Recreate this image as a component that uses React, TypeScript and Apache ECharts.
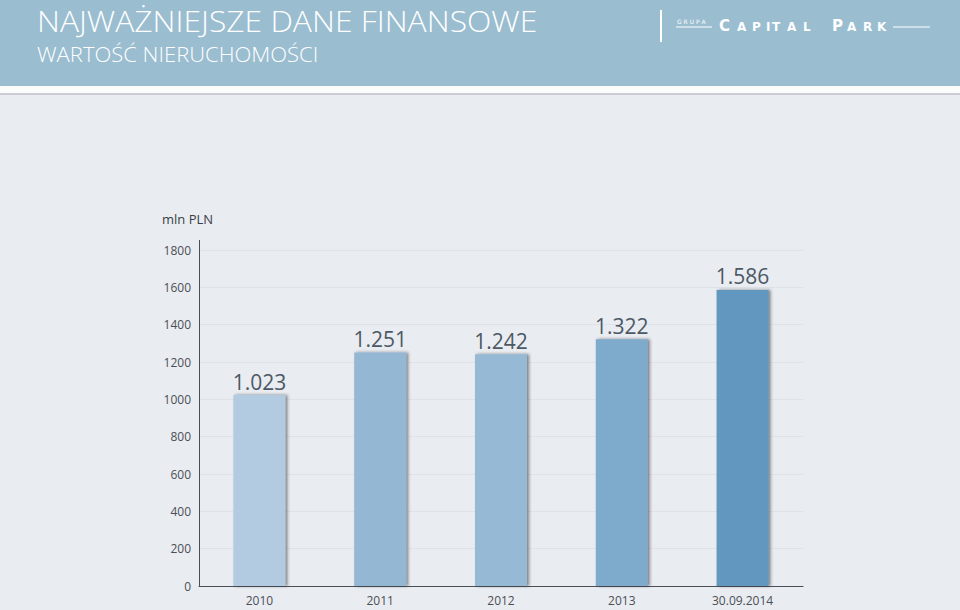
import React, { useEffect, useRef } from "react";
import * as echarts from "echarts";

const categories = ["2010", "2011", "2012", "2013", "30.09.2014"];
const values = [1023, 1251, 1242, 1322, 1586];
const barColors = ["#b2cbe0", "#94b8d3", "#96bad5", "#7eaacb", "#6298bf"];
const yTicks = [0, 200, 400, 600, 800, 1000, 1200, 1400, 1600, 1800];
const title = "NAJWAŻNIEJSZE DANE FINANSOWE";
const subtitle = "WARTOŚĆ NIERUCHOMOŚCI";
const unitLabel = "mln PLN";
const logoLetters = ["C", "A", "P", "I", "T", "A", "L", "P", "A", "R", "K"];
const logoX = [719, 737, 752, 766, 772, 787, 803, 832, 847, 863, 877];

const fmt = (v: number) => {
  const s = String(v);
  return s.length > 3 ? s.slice(0, s.length - 3) + "." + s.slice(s.length - 3) : s;
};

export default function App() {
  const ref = useRef<HTMLDivElement>(null);
  useEffect(() => {
    if (!ref.current) return;
    const chart = echarts.init(ref.current, undefined, { renderer: "svg" });
    const logo = logoLetters.map((ch, i) => {
      const big = i === 0 || i === 7;
      return {
        type: "text",
        x: logoX[i],
        y: 33,
        style: {
          text: ch,
          fill: "#ffffff",
          fontSize: big ? 15 : 12,
          fontWeight: "bold",
          fontFamily: "DejaVu Sans",
          verticalAlign: "bottom",
        },
      };
    });
    chart.setOption({
      animation: false,
      backgroundColor: "#e9ecf1",
      textStyle: { fontFamily: "Open Sans" },
      grid: { left: 199, right: 157, top: 250, bottom: 24 },
      xAxis: {
        type: "category",
        data: categories,
        axisLine: { lineStyle: { color: "#4a4f57", width: 1 } },
        axisTick: { show: false },
        axisLabel: { color: "#4b4f55", fontSize: 12, margin: 8 },
      },
      yAxis: {
        type: "value",
        min: yTicks[0],
        max: yTicks[yTicks.length - 1],
        interval: 200,
        axisLine: { show: true, lineStyle: { color: "#4a4f57", width: 1 } },
        axisTick: { show: false },
        axisLabel: { color: "#4b4f55", fontSize: 12, margin: 8, formatter: (v: number) => String(v) },
        splitLine: { lineStyle: { color: "#dfe3e9", width: 1 } },
      },
      series: [
        {
          type: "bar",
          barWidth: 52,
          data: values.map((v, i) => ({
            value: v,
            itemStyle: {
              color: barColors[i],
              shadowColor: "rgba(40,40,40,0.55)",
              shadowBlur: 3,
              shadowOffsetX: 2,
              shadowOffsetY: 0,
            },
          })),
          label: {
            show: true,
            position: "top",
            distance: 3,
            color: "#4c5965",
            fontSize: 21,
            formatter: (p: any) => fmt(p.value),
          },
        },
      ],
      graphic: [
        { type: "rect", shape: { x: 0, y: 0, width: 960, height: 86 }, style: { fill: "#9abdd0" } },
        { type: "rect", shape: { x: 0, y: 86, width: 960, height: 7 }, style: { fill: "#fbfdfd" } },
        { type: "rect", shape: { x: 0, y: 93, width: 960, height: 2 }, style: { fill: "#c9ccd4" } },
        {
          type: "text",
          x: 37,
          y: 5,
          scaleX: 1.06,
          style: { text: title, fill: "#ffffff", fontSize: 30, fontFamily: "Open Sans", fontWeight: 300 },
        },
        {
          type: "text",
          x: 37,
          y: 44,
          scaleX: 1.1,
          style: { text: subtitle, fill: "#ffffff", fontSize: 20, fontFamily: "Open Sans", fontWeight: 300 },
        },
        { type: "line", shape: { x1: 661, y1: 10, x2: 661, y2: 42 }, style: { stroke: "#ffffff", lineWidth: 2 } },
        {
          type: "text",
          x: 677,
          y: 18,
          style: { text: "G R U P A", fill: "#ffffff", fontSize: 6, fontFamily: "DejaVu Sans" },
        },
        { type: "line", shape: { x1: 676, y1: 27, x2: 712, y2: 27 }, style: { stroke: "#ffffff", lineWidth: 1 } },
        ...logo,
        { type: "line", shape: { x1: 893, y1: 27, x2: 930, y2: 27 }, style: { stroke: "#ffffff", lineWidth: 1 } },
        {
          type: "text",
          x: 162,
          y: 212,
          style: { text: unitLabel, fill: "#3a3f45", fontSize: 13, fontFamily: "Open Sans" },
        },
        { type: "line", shape: { x1: 199.5, y1: 240, x2: 199.5, y2: 250 }, style: { stroke: "#4a4f57", lineWidth: 1 } },
      ],
    });
    return () => chart.dispose();
  }, []);
  return <div ref={ref} style={{ width: 960, height: 610, position: "fixed", left: 0, top: 0 }} />;
}
